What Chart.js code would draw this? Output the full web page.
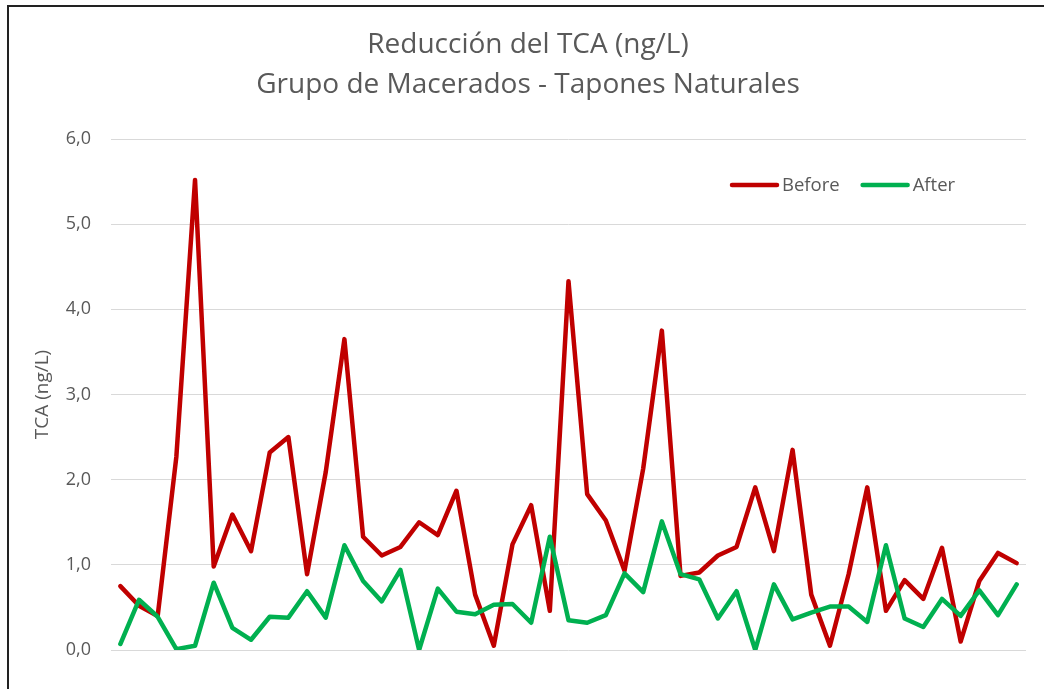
<!DOCTYPE html>
<html>
<head>
<meta charset="utf-8">
<title>Reducción del TCA</title>
<script src="https://cdn.jsdelivr.net/npm/chart.js@4/dist/chart.umd.min.js"></script>
<style>
html,body{margin:0;padding:0;background:#fff;overflow:hidden;}
#wrap{position:relative;width:1044px;height:689px;overflow:hidden;}
#frame{position:absolute;left:7px;top:5px;width:1100px;height:800px;border-left:2px solid #222;border-top:2px solid #222;pointer-events:none;}
canvas{position:absolute;left:0;top:0;}
</style>
</head>
<body>
<div id="wrap">
	<canvas id="chart" width="1044" height="689"></canvas>
	<div id="frame"></div>
</div>
<script>
// muestras (49 tapones)
var labels=["1","2","3","4","5","6","7","8","9","10","11","12","13","14","15","16","17","18","19","20",
	"21","22","23","24","25","26","27","28","29","30","31","32","33","34","35","36","37","38","39","40",
	"41","42","43","44","45","46","47","48","49"];
var before=[0.75,0.52,0.40,2.27,5.52,0.98,1.59,1.16,2.32,2.50,0.89,2.09,3.65,1.33,1.11,1.21,1.50,1.35,1.87,0.65,
	0.05,1.24,1.70,0.46,4.33,1.83,1.52,0.93,2.13,3.75,0.87,0.91,1.11,1.21,1.91,1.16,2.35,0.65,0.05,0.89,
	1.91,0.46,0.82,0.60,1.20,0.10,0.81,1.14,1.02];
var after=[0.07,0.59,0.39,0.01,0.05,0.79,0.26,0.12,0.39,0.38,0.69,0.38,1.23,0.81,0.57,0.94,0.00,0.72,0.45,0.42,
	0.53,0.54,0.32,1.33,0.35,0.32,0.41,0.90,0.68,1.51,0.89,0.83,0.37,0.69,0.00,0.77,0.36,0.44,0.51,0.51,
	0.33,1.23,0.37,0.27,0.60,0.40,0.70,0.41,0.77];
var yTicks=[0,1,2,3,4,5,6];

var grey="#595959";
var fontFamily='"Open Sans", "Liberation Sans", sans-serif';

// leyenda dentro del area del grafico (como en Excel)
var legendInPlot={
	id:"legendInPlot",
	afterDraw:function(chart){
		var ctx=chart.ctx;
		var x=730,y=185;
		ctx.save();
		ctx.font="18.5px "+fontFamily;
		ctx.textBaseline="middle";
		chart.data.datasets.forEach(function(ds){
			ctx.strokeStyle=ds.borderColor;
			ctx.lineWidth=4.5;
			ctx.lineCap="round";
			ctx.beginPath();
			ctx.moveTo(x+2,y);
			ctx.lineTo(x+47,y);
			ctx.stroke();
			ctx.fillStyle=grey;
			ctx.fillText(ds.label,x+52,y+1);
			x+=52+ctx.measureText(ds.label).width+21;
		});
		ctx.restore();
	}
};

new Chart("chart",{
	type:"line",
	data:{
		labels:labels,
		datasets:[{
			label:"Before",
			data:before,
			borderColor:"#C00000",
			order:1
		},{
			label:"After",
			data:after,
			borderColor:"#00B050",
			order:0
		}]
	},
	options:{
		responsive:false,
		animation:false,
		layout:{padding:{left:30,right:18,top:0,bottom:39}},
		elements:{
			line:{borderWidth:4.5,tension:0,borderCapStyle:"round",borderJoinStyle:"round",fill:false},
			point:{radius:0,hoverRadius:0}
		},
		plugins:{
			legend:{display:false},
			tooltip:{enabled:false},
			title:{
				display:true,
				text:["Reducción del TCA (ng/L)","Grupo de Macerados - Tapones Naturales"],
				color:grey,
				font:{family:fontFamily,size:28,weight:"normal",lineHeight:"40px"},
				padding:{top:25,bottom:34}
			}
		},
		scales:{
			x:{display:false,offset:true},
			y:{
				min:0,
				max:6,
				afterBuildTicks:function(scale){
					scale.ticks=yTicks.map(function(v){return {value:v};});
				},
				afterFit:function(scale){scale.width=81;},
				grid:{color:"#D9D9D9",lineWidth:1,drawTicks:false},
				border:{display:false},
				ticks:{
					color:grey,
					padding:20,
					font:{family:fontFamily,size:18},
					callback:function(v){return v.toFixed(1).replace(".",",");}
				},
				title:{
					display:true,
					text:"TCA (ng/L)",
					color:grey,
					font:{family:fontFamily,size:19},
					padding:{top:1,bottom:0}
				}
			}
		}
	},
	plugins:[legendInPlot]
});
</script>
</body>
</html>
